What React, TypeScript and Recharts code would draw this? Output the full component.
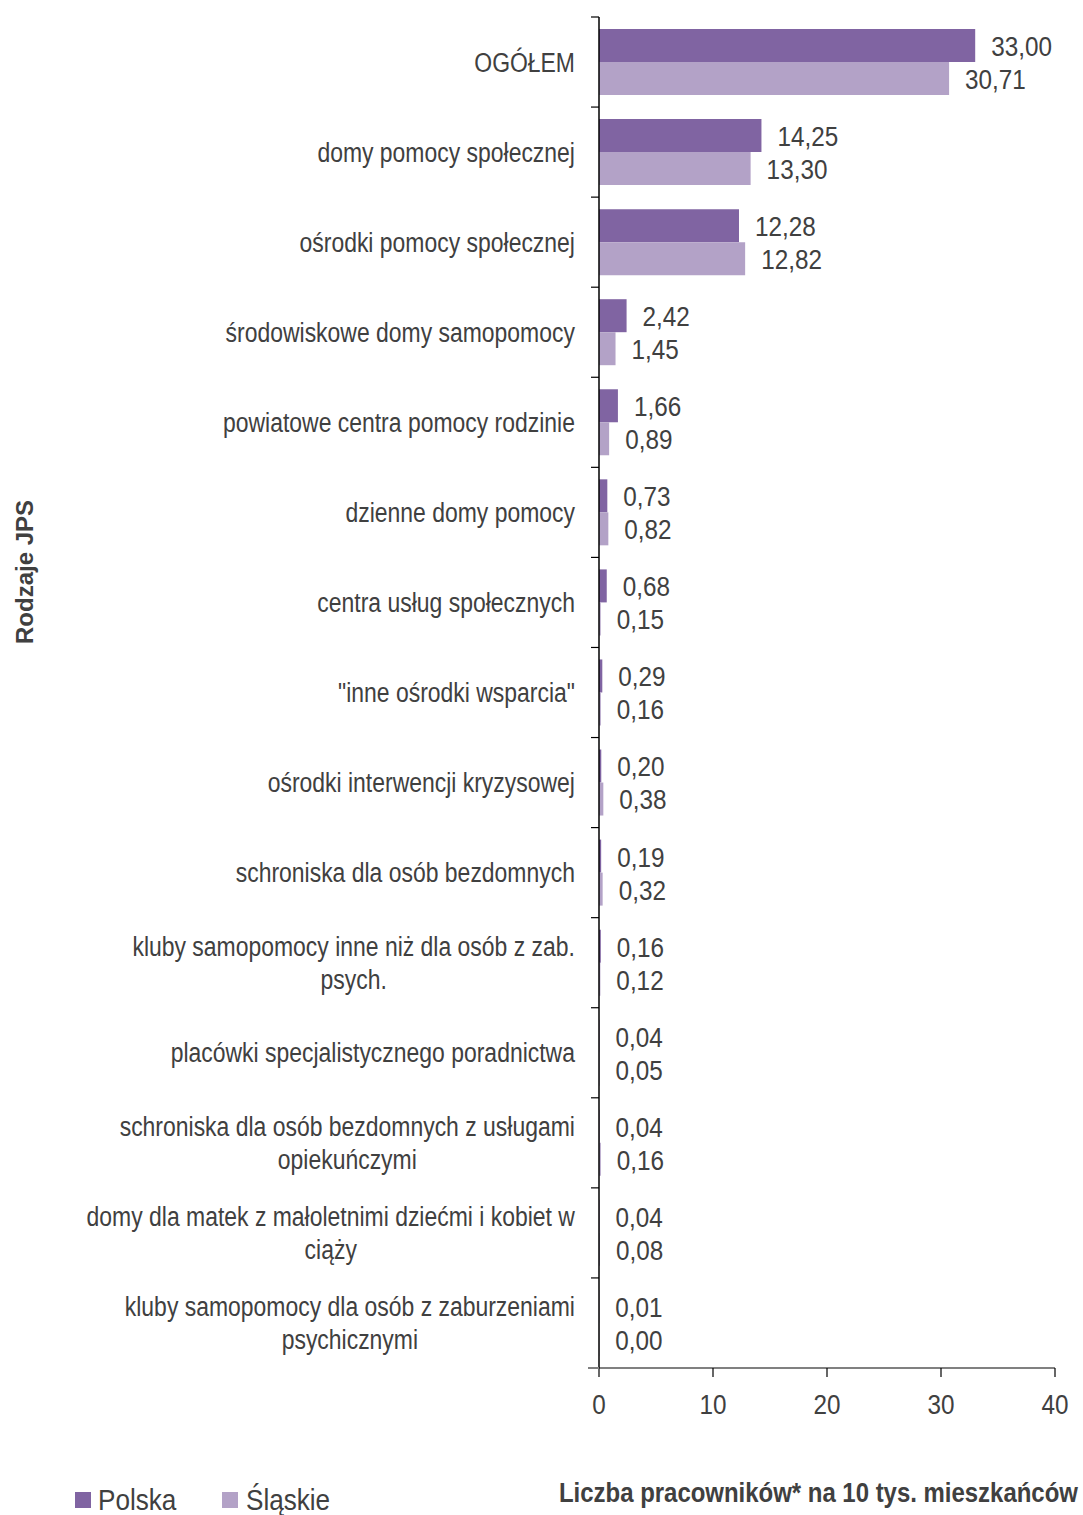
import React from 'react';
import { BarChart, Bar, XAxis, YAxis, LabelList } from 'recharts';

const categories = [
  'OGÓŁEM',
  'domy pomocy społecznej',
  'ośrodki pomocy społecznej',
  'środowiskowe domy samopomocy',
  'powiatowe centra pomocy rodzinie',
  'dzienne domy pomocy',
  'centra usług społecznych',
  '"inne ośrodki wsparcia"',
  'ośrodki interwencji kryzysowej',
  'schroniska dla osób bezdomnych',
  'kluby samopomocy inne niż dla osób z zab.\npsych.',
  'placówki specjalistycznego poradnictwa',
  'schroniska dla osób bezdomnych z usługami\nopiekuńczymi',
  'domy dla matek z małoletnimi dziećmi i kobiet w\nciąży',
  'kluby samopomocy dla osób z zaburzeniami\npsychicznymi',
];
const polska = [33.0, 14.25, 12.28, 2.42, 1.66, 0.73, 0.68, 0.29, 0.2, 0.19, 0.16, 0.04, 0.04, 0.04, 0.01];
const slaskie = [30.71, 13.3, 12.82, 1.45, 0.89, 0.82, 0.15, 0.16, 0.38, 0.32, 0.12, 0.05, 0.16, 0.08, 0.0];
const xTicks = [0, 10, 20, 30, 40];

const data = categories.map((name, i) => ({ name, polska: polska[i], slaskie: slaskie[i] }));

const W = 1083;
const H = 1515;
const MARGIN = { top: 17, right: 28, left: 9, bottom: 97 };
const Y_WIDTH = 590;
const X_HEIGHT = 50;
const AXIS_X = MARGIN.left + Y_WIDTH;
const PLOT_H = H - MARGIN.top - MARGIN.bottom - X_HEIGHT;
const BAND = PLOT_H / categories.length;

// narrow look: Liberation Sans squeezed horizontally
const FONT = "'Liberation Sans', Arial, sans-serif";
const TEXT = '#404040';
const C_POLSKA = '#8064A2';
const C_SLASKIE = '#B3A2C7';
const SIZE = 27;
const CAT_SX = 0.85;
const VAL_SX = 0.9;

let ctx: CanvasRenderingContext2D | null = null;
const measure = (s: string, size: number) => {
  if (!ctx) ctx = document.createElement('canvas').getContext('2d');
  if (!ctx) return s.length * size * 0.45;
  ctx.font = `${size}px ${FONT}`;
  return ctx.measureText(s).width;
};

const fmt = (v: number) => v.toFixed(2).replace('.', ',');

// eslint-disable-next-line @typescript-eslint/no-explicit-any
const CategoryTick = (props: any) => {
  const { y, payload, index } = props;
  const lines: string[] = String(payload.value).split('\n');
  const right = AXIS_X - 24;
  const widest = Math.max(...lines.map((l) => measure(l, SIZE))) * CAT_SX;
  const cx = right - widest / 2;
  const lh = 33;
  const y0 = y - ((lines.length - 1) * lh) / 2;
  const last = index === categories.length - 1;
  return (
    <g>
      <line x1={AXIS_X - 8} x2={AXIS_X} y1={y - BAND / 2} y2={y - BAND / 2} stroke="#000" strokeWidth={1.2} />
      {last && (
        <line x1={AXIS_X - 11} x2={AXIS_X} y1={y + BAND / 2} y2={y + BAND / 2} stroke="#808080" strokeWidth={2} />
      )}
      {lines.map((l, i) => (
        <text
          key={i}
          transform={`translate(${cx},${y0 + i * lh}) scale(${CAT_SX},1)`}
          textAnchor="middle"
          dominantBaseline="central"
          fontSize={SIZE}
          fontFamily={FONT}
          fill={TEXT}
        >
          {l}
        </text>
      ))}
    </g>
  );
};

// eslint-disable-next-line @typescript-eslint/no-explicit-any
const XTick = (props: any) => {
  const { x, y, payload } = props;
  return (
    <text
      transform={`translate(${x},${y}) scale(${VAL_SX},1)`}
      dy="0.71em"
      textAnchor="middle"
      fontSize={SIZE}
      fontFamily={FONT}
      fill={TEXT}
    >
      {payload.value}
    </text>
  );
};

// eslint-disable-next-line @typescript-eslint/no-explicit-any
const valueLabel = (props: any) => {
  const { x, y, width, height, value } = props;
  return (
    <text
      transform={`translate(${x + width + 16},${y + height / 2 + 1}) scale(${VAL_SX},1)`}
      dominantBaseline="central"
      fontSize={SIZE}
      fontFamily={FONT}
      fill={TEXT}
    >
      {fmt(value)}
    </text>
  );
};

export default function App() {
  return (
    <div style={{ position: 'absolute', left: 0, top: 0, width: W, height: H, background: '#fff', fontFamily: FONT }}>
      <BarChart
        width={W}
        height={H}
        data={data}
        layout="vertical"
        margin={MARGIN}
        barCategoryGap={12}
        barGap={0}
      >
        <XAxis
          type="number"
          domain={[0, 40]}
          ticks={xTicks}
          height={X_HEIGHT}
          axisLine={{ stroke: '#808080', strokeWidth: 2 }}
          tickLine={{ stroke: '#000', strokeWidth: 1.2 }}
          tickSize={9}
          tickMargin={18}
          tick={<XTick />}
        />
        <YAxis
          type="category"
          dataKey="name"
          width={Y_WIDTH}
          interval={0}
          axisLine={{ stroke: '#000', strokeWidth: 1.5 }}
          tickLine={false}
          tick={<CategoryTick />}
        />
        <Bar dataKey="polska" fill={C_POLSKA} minPointSize={0.3} isAnimationActive={false}>
          <LabelList dataKey="polska" content={valueLabel} />
        </Bar>
        <Bar dataKey="slaskie" fill={C_SLASKIE} minPointSize={0.3} isAnimationActive={false}>
          <LabelList dataKey="slaskie" content={valueLabel} />
        </Bar>
      </BarChart>

      <div
        style={{
          position: 'absolute',
          left: 25,
          top: 572,
          transform: 'translate(-50%, -50%) rotate(-90deg)',
          fontWeight: 'bold',
          fontSize: 24,
          color: TEXT,
          whiteSpace: 'nowrap',
        }}
      >
        Rodzaje JPS
      </div>

      <div
        style={{
          position: 'absolute',
          right: 5,
          top: 1477,
          fontWeight: 'bold',
          fontSize: 28,
          color: TEXT,
          whiteSpace: 'nowrap',
          transform: 'scaleX(0.855)',
          transformOrigin: 'right center',
        }}
      >
        Liczba pracowników* na 10 tys. mieszkańców
      </div>

      <div
        style={{
          position: 'absolute',
          left: 75,
          top: 1483,
          display: 'flex',
          alignItems: 'center',
          fontSize: 30,
          color: TEXT,
        }}
      >
        <span style={{ display: 'inline-block', width: 16, height: 16, background: C_POLSKA, marginRight: 7 }} />
        <span style={{ display: 'inline-block', transform: 'scaleX(0.87)', transformOrigin: 'left center', width: 80 }}>Polska</span>
        <span style={{ display: 'inline-block', width: 16, height: 16, background: C_SLASKIE, marginLeft: 44, marginRight: 8 }} />
        <span style={{ display: 'inline-block', transform: 'scaleX(0.87)', transformOrigin: 'left center' }}>Śląskie</span>
      </div>
    </div>
  );
}
